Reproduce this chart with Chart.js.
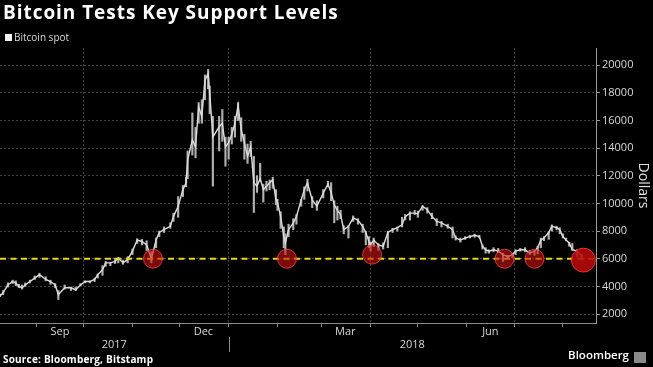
<!DOCTYPE html>
<html>
<head>
<meta charset="utf-8">
<script src="https://cdn.jsdelivr.net/npm/chart.js@4.4.1/dist/chart.umd.min.js"></script>
<style>
  html, body { margin: 0; padding: 0; background: #000; }
  #wrap { position: relative; width: 653px; height: 367px; overflow: hidden; font-family: "Open Sans", sans-serif; }
  #chart { position: absolute; left: 0; top: 0; }
  .title { position: absolute; left: 3px; top: 0px; color: #fff; font-weight: 700; font-size: 19px; line-height: 24px; letter-spacing: 0.95px; white-space: nowrap; }
  .legend { position: absolute; left: 5px; top: 31px; color: #d8d8d8; font-size: 10px; line-height: 13px; white-space: nowrap; }
  .legend i { display: inline-block; width: 7px; height: 7px; background: #f2f2f2; margin-right: 2px; vertical-align: 0px; }
  .source { position: absolute; left: 3px; top: 352px; color: #fff; font-weight: 700; font-size: 10px; line-height: 14px; letter-spacing: 0.2px; white-space: nowrap; }
  .brand { position: absolute; right: 24px; top: 347px; color: #fff; font-weight: 600; font-size: 11.5px; line-height: 16px; }
  .brand-icon { position: absolute; left: 634px; top: 352px; width: 12px; height: 11px; background: #8a8a8a; }
</style>
</head>
<body>
<div id="wrap">
  <canvas id="chart" width="653" height="367"></canvas>
  <div class="title">Bitcoin Tests Key Support Levels</div>
  <div class="legend"><i></i>Bitcoin spot</div>
  <div class="source">Source: Bloomberg, Bitstamp</div>
  <div class="brand">Bloomberg</div>
  <div class="brand-icon"></div>
</div>
<script>
const DATES = [
  "2017-08-09", "2017-08-11", "2017-08-14", "2017-08-17", "2017-08-19", "2017-08-21", "2017-08-23", "2017-08-25",
  "2017-08-28", "2017-08-31", "2017-09-03", "2017-09-07", "2017-09-10", "2017-09-13", "2017-09-15", "2017-09-19",
  "2017-09-23", "2017-09-26", "2017-09-29", "2017-10-02", "2017-10-05", "2017-10-08", "2017-10-10", "2017-10-13",
  "2017-10-15", "2017-10-18", "2017-10-21", "2017-10-23", "2017-10-26", "2017-10-29", "2017-11-01", "2017-11-04",
  "2017-11-07", "2017-11-10", "2017-11-13", "2017-11-16", "2017-11-18", "2017-11-21", "2017-11-25", "2017-11-27",
  "2017-11-30", "2017-12-03", "2017-12-05", "2017-12-06", "2017-12-09", "2017-12-11", "2017-12-13", "2017-12-15",
  "2017-12-17", "2017-12-19", "2017-12-20", "2017-12-22", "2017-12-26", "2017-12-28", "2017-12-30", "2018-01-01",
  "2018-01-03", "2018-01-05", "2018-01-07", "2018-01-09", "2018-01-11", "2018-01-13", "2018-01-15", "2018-01-17",
  "2018-01-19", "2018-01-21", "2018-01-23", "2018-01-25", "2018-01-27", "2018-01-29", "2018-01-31", "2018-02-01",
  "2018-02-03", "2018-02-05", "2018-02-06", "2018-02-08", "2018-02-11", "2018-02-13", "2018-02-16", "2018-02-18",
  "2018-02-20", "2018-02-23", "2018-02-26", "2018-03-02", "2018-03-05", "2018-03-07", "2018-03-09", "2018-03-11",
  "2018-03-13", "2018-03-15", "2018-03-18", "2018-03-21", "2018-03-24", "2018-03-27", "2018-03-29", "2018-03-31",
  "2018-04-01", "2018-04-03", "2018-04-06", "2018-04-09", "2018-04-12", "2018-04-15", "2018-04-18", "2018-04-21",
  "2018-04-23", "2018-04-26", "2018-04-29", "2018-05-01", "2018-05-04", "2018-05-07", "2018-05-10", "2018-05-13",
  "2018-05-16", "2018-05-20", "2018-05-23", "2018-05-25", "2018-05-28", "2018-05-31", "2018-06-03", "2018-06-06",
  "2018-06-09", "2018-06-11", "2018-06-13", "2018-06-15", "2018-06-18", "2018-06-21", "2018-06-24", "2018-06-27",
  "2018-06-30", "2018-07-02", "2018-07-05", "2018-07-08", "2018-07-11", "2018-07-14", "2018-07-16", "2018-07-18",
  "2018-07-20", "2018-07-23", "2018-07-25", "2018-07-28", "2018-07-30", "2018-08-01", "2018-08-03", "2018-08-05",
  "2018-08-07", "2018-08-10", "2018-08-13"
];
const CLOSE = [
  3300, 3550, 4100, 4350, 4250, 4000, 3900, 4100,
  4350, 4600, 4850, 4500, 4350, 4100, 3400, 3900,
  3900, 3750, 4100, 4350, 4350, 4500, 4850, 5200,
  5700, 5700, 5800, 6050, 5700, 5950, 6550, 7350,
  7250, 7000, 6000, 7350, 7900, 8100, 8350, 9050,
  9800, 11000, 11500, 13150, 14600, 14100, 17000, 16300,
  18900, 19400, 18000, 14800, 15550, 15800, 14100, 14400,
  15000, 15800, 17100, 15300, 14400, 13400, 14100, 11500,
  11250, 11800, 11000, 11250, 11500, 11700, 10300, 10050,
  9050, 7600, 7150, 8100, 8600, 9050, 10250, 11000,
  11500, 10250, 9800, 10750, 11400, 10800, 9900, 9500,
  9200, 8100, 8350, 8950, 8800, 8350, 7900, 7250,
  7000, 7350, 7000, 6900, 7900, 8100, 8250, 8450,
  9050, 9300, 9300, 9250, 9800, 9550, 9050, 8700,
  8600, 8350, 8100, 7500, 7350, 7500, 7600, 7700,
  7600, 6900, 6650, 6550, 6650, 6550, 6300, 6150,
  6300, 6550, 6650, 6650, 6400, 6550, 6800, 7350,
  7500, 7900, 8350, 8250, 8100, 7600, 7350, 7150,
  6650, 6550, 6200
];
const LOW = [
  3250, 3400, 3950, 4200, 4050, 3900, 3800, 4000,
  4250, 4500, 4650, 4400, 4150, 3900, 3050, 3800,
  3700, 3700, 4050, 4250, 4250, 4350, 4600, 4800,
  5450, 5500, 5650, 5700, 5600, 5700, 6300, 7100,
  7000, 6600, 5700, 6800, 7600, 7900, 8200, 8700,
  9000, 10500, 11200, 11800, 13500, 13300, 15800, 15800,
  17500, 18300, 16500, 11250, 13800, 14500, 12700, 13200,
  14300, 14800, 16000, 14500, 13200, 12900, 13400, 9350,
  10800, 11600, 10100, 10900, 11000, 11100, 9900, 9500,
  8200, 6800, 6300, 7600, 8100, 8500, 9800, 10300,
  10900, 9700, 9500, 10400, 11200, 10200, 8600, 8800,
  8900, 7800, 7500, 8700, 8500, 7900, 7000, 6800,
  6550, 6900, 6600, 6700, 6800, 7900, 8000, 8300,
  8800, 8800, 9200, 9000, 9500, 9300, 8900, 8400,
  8300, 8200, 7500, 7350, 7200, 7400, 7500, 7550,
  7500, 6700, 6400, 6400, 6500, 6450, 5800, 6050,
  6100, 6300, 6550, 6500, 6300, 6250, 6350, 6800,
  7300, 7400, 8000, 8100, 7800, 7500, 7300, 6900,
  6600, 6150, 5900
];
const HIGH = [
  3450, 3700, 4250, 4450, 4400, 4150, 4100, 4250,
  4450, 4750, 4950, 4700, 4450, 4200, 3700, 4100,
  3950, 3950, 4200, 4400, 4400, 4600, 4900, 5500,
  5800, 5750, 6050, 6100, 5900, 6150, 6700, 7450,
  7400, 7300, 6500, 7500, 8000, 8300, 8600, 9300,
  10500, 11300, 11900, 13800, 16550, 15500, 17300, 17500,
  19300, 19700, 18500, 16300, 16300, 16800, 14800, 14800,
  15500, 16300, 17300, 16200, 15000, 14300, 14500, 13400,
  12000, 12900, 11400, 11600, 11700, 11900, 11000, 10300,
  9400, 8300, 7800, 8500, 8900, 9200, 10300, 11200,
  11750, 10500, 10200, 11000, 11600, 11500, 10200, 9800,
  9500, 8400, 8400, 9100, 8900, 8500, 8000, 7600,
  7200, 7500, 7100, 7150, 8000, 8200, 8300, 9000,
  9200, 9400, 9500, 9450, 9850, 9700, 9300, 8900,
  8700, 8500, 8300, 7650, 7500, 7600, 7700, 7780,
  7700, 7000, 6800, 6650, 6800, 6750, 6400, 6250,
  6400, 6650, 6750, 6800, 6600, 6600, 6900, 7500,
  7600, 7950, 8450, 8350, 8250, 7800, 7500, 7200,
  7100, 6650, 6300
];

const SUPPORT_LEVEL = 6000;
const TEST_DATES = ["2017-11-14", "2018-02-07", "2018-04-02", "2018-06-25", "2018-07-14", "2018-08-14"];
const TEST_VALUES = [6000, 6000, 6300, 6000, 6000, 5900];

const MONTH_STARTS = [
  "2017-09-01", "2017-10-01", "2017-11-01", "2017-12-01", "2018-01-01", "2018-02-01",
  "2018-03-01", "2018-04-01", "2018-05-01", "2018-06-01", "2018-07-01", "2018-08-01"
];
const MONTH_LABELS = ["Sep", "Dec", "Mar", "Jun"];
const MONTH_LABEL_DATES = ["2017-09-16", "2017-12-16", "2018-03-16", "2018-06-16"];
const YEARS = ["2017", "2018"];
const Y_TICKS = [2000, 4000, 6000, 8000, 10000, 12000, 14000, 16000, 18000, 20000];

const AXIS_START = "2017-08-09";
const AXIS_END = "2018-08-22";
const Y_MIN = 1350;
const Y_MAX = 21250;

const FONT = "'Open Sans', sans-serif";
const GRID = "rgba(255,255,255,0.26)";

const ORIGIN = Date.parse("2017-09-01");
function toDay(s) {
  return (Date.parse(s) - ORIGIN) / 864e5;
}

const xMin = toDay(AXIS_START);
const xMax = toDay(AXIS_END);

// middle of the visible part of each year, where its label sits
function yearMid(y) {
  const a = Math.max(xMin, toDay(y + "-01-01"));
  const b = Math.min(xMax, toDay((Number(y) + 1) + "-01-01"));
  return (a + b) / 2;
}

const yearSeparator = {
  id: "yearSeparator",
  afterDraw(chart) {
    const { ctx, scales } = chart;
    const ys = scales.years;
    YEARS.slice(1).forEach((y) => {
      const px = Math.round(scales.x.getPixelForValue(toDay(y + "-01-01"))) + 0.5;
      ctx.save();
      ctx.strokeStyle = "#8c8c8c";
      ctx.lineWidth = 1;
      ctx.beginPath();
      ctx.moveTo(px, ys.top - 1);
      ctx.lineTo(px, ys.bottom - 1);
      ctx.stroke();
      ctx.restore();
    });
  },
};

new Chart(document.getElementById("chart"), {
  type: "line",
  data: {
    datasets: [
      {
        type: "scatter",
        data: TEST_DATES.map((d, i) => ({ x: toDay(d), y: TEST_VALUES[i] })),
        pointRadius: [9.5, 9.5, 9.5, 9.5, 9.5, 12],
        backgroundColor: ["rgba(205,20,20,0.6)", "rgba(205,20,20,0.6)", "rgba(205,20,20,0.6)", "rgba(205,20,20,0.6)", "rgba(205,20,20,0.6)", "rgba(185,10,10,0.88)"],
        borderColor: "rgba(255,70,70,0.75)",
        borderWidth: 1,
        order: 0,
      },
      {
        data: [{ x: xMin, y: SUPPORT_LEVEL }, { x: xMax, y: SUPPORT_LEVEL }],
        borderColor: "#e8d51c",
        borderWidth: 2,
        borderDash: [6, 4.5],
        pointRadius: 0,
        order: 1,
      },
      {
        label: "Bitcoin spot",
        data: DATES.map((d, i) => ({ x: toDay(d), y: CLOSE[i] })),
        borderColor: "#dcdcdc",
        borderWidth: 1.4,
        pointRadius: 0,
        tension: 0,
        order: 2,
      },
      {
        type: "bar",
        data: DATES.map((d, i) => ({ x: toDay(d), y: [LOW[i], HIGH[i]] })),
        backgroundColor: "#b0b0b0",
        barThickness: 1.5,
        grouped: false,
        order: 3,
      },
    ],
  },
  options: {
    responsive: false,
    animation: false,
    devicePixelRatio: 1,
    layout: { padding: { top: 48, right: 0, bottom: 14, left: 0 }, autoPadding: false },
    plugins: { legend: { display: false }, tooltip: { enabled: false } },
    scales: {
      x: {
        type: "linear",
        position: "bottom",
        weight: 0,
        min: xMin,
        max: xMax,
        offset: false,
        afterBuildTicks(scale) {
          const ticks = MONTH_STARTS.map((d) => ({ value: toDay(d), month: new Date(d).getUTCMonth() }));
          MONTH_LABEL_DATES.forEach((d, i) => ticks.push({ value: toDay(d), text: MONTH_LABELS[i] }));
          scale.ticks = ticks.sort((a, b) => a.value - b.value);
        },
        afterFit(scale) {
          scale.height = 15;
        },
        grid: {
          offset: false,
          color: (c) => (c.tick && c.tick.month !== undefined && c.tick.month % 3 === 0 ? GRID : "transparent"),
          tickColor: (c) => (c.tick && c.tick.month !== undefined ? "#8c8c8c" : "transparent"),
          tickLength: 4,
        },
        border: { color: "#8c8c8c", dash: [2, 2] },
        ticks: {
          autoSkip: false,
          maxRotation: 0,
          padding: -2,
          color: "#d8d8d8",
          font: { family: FONT, size: 11 },
          callback(value, i, ticks) {
            return this.ticks[i] && this.ticks[i].text ? this.ticks[i].text : "";
          },
        },
      },
      years: {
        type: "linear",
        position: "bottom",
        weight: 1,
        min: xMin,
        max: xMax,
        offset: false,
        afterBuildTicks(scale) {
          scale.ticks = YEARS.map((y) => ({ value: yearMid(y) }));
        },
        afterFit(scale) {
          scale.height = 15;
        },
        grid: { display: false, drawTicks: false },
        border: { display: false },
        ticks: {
          autoSkip: false,
          maxRotation: 0,
          padding: 0,
          color: "#d8d8d8",
          font: { family: FONT, size: 11 },
          callback: (v, i) => YEARS[i],
        },
      },
      y: {
        type: "linear",
        position: "right",
        min: Y_MIN,
        max: Y_MAX,
        afterBuildTicks(scale) {
          scale.ticks = Y_TICKS.map((v) => ({ value: v }));
        },
        afterFit(scale) {
          scale.width = 57;
        },
        grid: { color: GRID, tickColor: "#9a9a9a", tickLength: 4 },
        border: { color: "#9a9a9a", dash: [2, 2] },
        ticks: {
          padding: 2,
          color: "#d8d8d8",
          font: { family: FONT, size: 11 },
          callback: (v) => String(v),
        },
        title: {
          display: true,
          text: "Dollars",
          color: "#e0e0e0",
          font: { family: FONT, size: 14 },
          padding: { top: 2, bottom: 0 },
        },
      },
    },
  },
  plugins: [yearSeparator],
});
</script>
</body>
</html>
